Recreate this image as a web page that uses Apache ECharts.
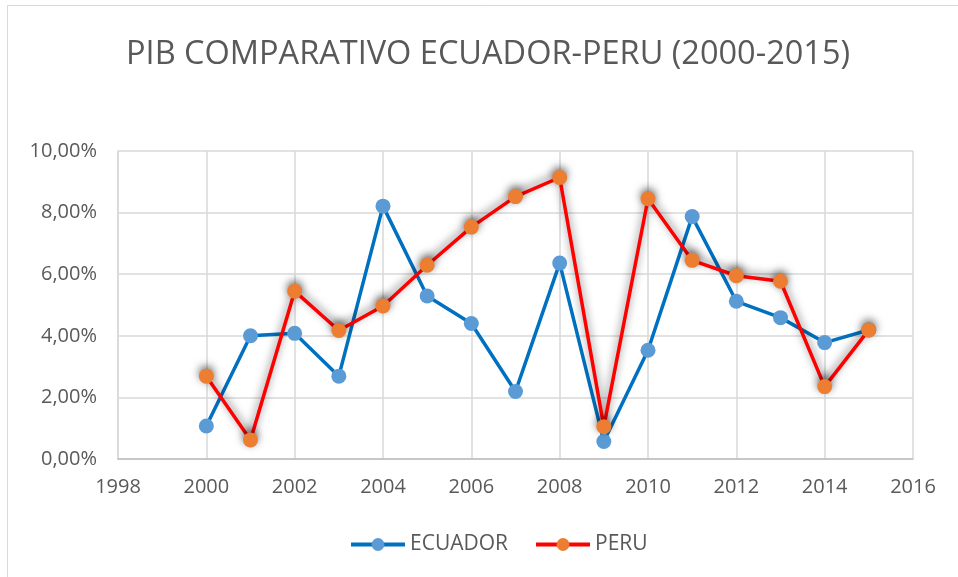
<!DOCTYPE html>
<html>
<head>
<meta charset="utf-8">
<script src="https://cdn.jsdelivr.net/npm/echarts@6/dist/echarts.min.js"></script>
<style>
  html, body { margin: 0; padding: 0; background: #fff; }
  #chartRoot { width: 958px; height: 577px; }
</style>
</head>
<body>
<div id="chartRoot"></div>
<script>
// 数据：年份与增长率（%）
const years = [2000, 2001, 2002, 2003, 2004, 2005, 2006, 2007, 2008, 2009, 2010, 2011, 2012, 2013, 2014, 2015];
const ecuadorValues = [1.07, 4.00, 4.08, 2.69, 8.21, 5.29, 4.40, 2.19, 6.36, 0.57, 3.53, 7.87, 5.12, 4.59, 3.78, 4.19];
const peruValues = [2.69, 0.62, 5.45, 4.17, 4.97, 6.29, 7.53, 8.52, 9.14, 1.05, 8.45, 6.45, 5.95, 5.77, 2.35, 4.19];
const seriesNames = ["ECUADOR", "PERU"];

const fontName = "'Open Sans', sans-serif";
const textColor = "#595959";

let toPairs = values => years.map((y, i) => [y, values[i]]);

const myChart = echarts.init(document.querySelector("#chartRoot"));
const option = {
    backgroundColor: "#fff",
    animation: false,
    title: {
        text: "PIB COMPARATIVO ECUADOR-PERU (2000-2015)",
        left: 121,
        top: 33,
        textStyle: {
            color: textColor,
            fontFamily: fontName,
            fontWeight: "normal",
            fontSize: 32.5
        }
    },
    graphic: [{
        type: "rect",
        shape: { x: 7.5, y: 5.5, width: 1000, height: 1000 },
        style: { fill: "none", stroke: "#d9d9d9", lineWidth: 1 }
    }],
    legend: {
        data: seriesNames,
        bottom: 17,
        left: 344,
        itemWidth: 54,
        itemHeight: 16,
        itemGap: 26,
        lineStyle: { width: 4 },
        textStyle: {
            color: textColor,
            fontFamily: fontName,
            fontSize: 21
        }
    },
    grid: {
        left: 118,
        right: 45,
        top: 151,
        bottom: 118,
        containLabel: false
    },
    xAxis: {
        type: "value",
        min: 1998,
        max: 2016,
        interval: 2,
        axisLine: { lineStyle: { color: "#bfbfbf", width: 1.5 } },
        axisTick: { show: false },
        splitLine: { show: true, lineStyle: { color: "#d9d9d9", width: 1.5 } },
        axisLabel: {
            color: textColor,
            fontFamily: fontName,
            fontSize: 20,
            margin: 18,
            formatter: v => String(v)
        }
    },
    yAxis: {
        type: "value",
        min: 0,
        max: 10,
        interval: 2,
        axisLine: { show: true, lineStyle: { color: "#d9d9d9", width: 1.5 } },
        axisTick: { show: false },
        splitLine: { show: true, lineStyle: { color: "#d9d9d9", width: 1.5 } },
        axisLabel: {
            color: textColor,
            fontFamily: fontName,
            fontSize: 20,
            margin: 21,
            formatter: v => v.toFixed(2).replace(".", ",") + "%"
        }
    },
    series: [
        {
            name: seriesNames[0],
            type: "line",
            data: toPairs(ecuadorValues),
            symbol: "circle",
            symbolSize: 15,
            lineStyle: { color: "#0070C0", width: 3.5 },
            itemStyle: { color: "#5B9BD5" }
        },
        {
            name: seriesNames[1],
            type: "line",
            data: toPairs(peruValues),
            symbol: "circle",
            symbolSize: 15,
            z: 3,
            lineStyle: {
                color: "#FF0000",
                width: 3.5,
                shadowColor: "rgba(0,0,0,0.55)",
                shadowBlur: 8,
                shadowOffsetY: -3
            },
            itemStyle: {
                color: "#ED7D31",
                shadowColor: "rgba(0,0,0,0.55)",
                shadowBlur: 8,
                shadowOffsetY: -3
            }
        }
    ]
};
myChart.setOption(option, true);
</script>
</body>
</html>
